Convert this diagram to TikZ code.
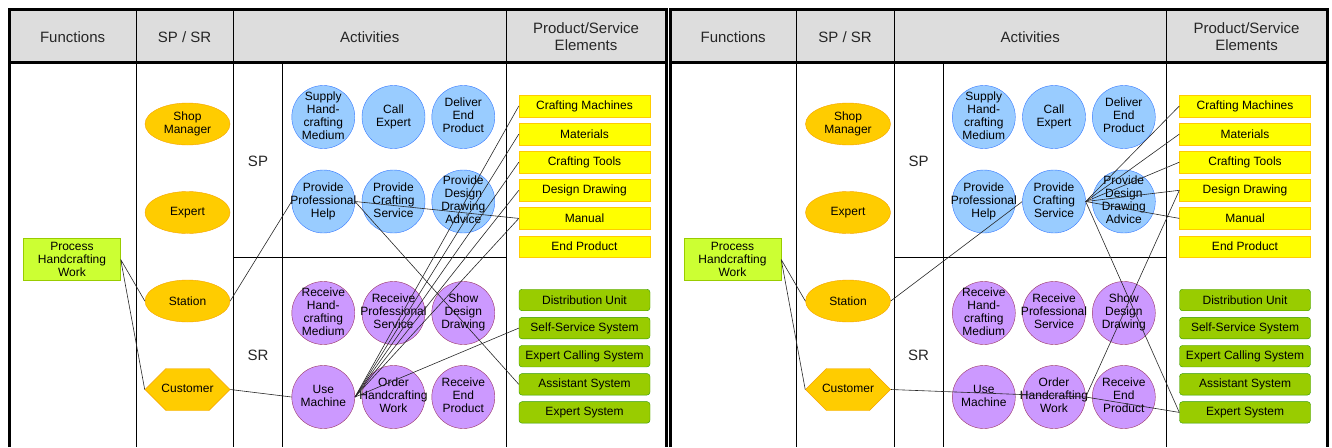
\documentclass[tikz,border=0pt]{standalone}
\usepackage{fontspec}
\setmainfont{Liberation Sans}
\usetikzlibrary{shapes.geometric,shapes.symbols}
\definecolor{hdrgray}{HTML}{DDDDDD}
\definecolor{actfill}{HTML}{FFCC00}
\definecolor{actline}{HTML}{F5A300}
\definecolor{funcfill}{HTML}{CCFF33}
\definecolor{funcline}{HTML}{99CC00}
\definecolor{spfill}{HTML}{99CCFF}
\definecolor{spline}{HTML}{3377FF}
\definecolor{srfill}{HTML}{CC99FF}
\definecolor{srline}{HTML}{993366}
\definecolor{pfill}{HTML}{FFFF00}
\definecolor{pline}{HTML}{FFCC00}
\definecolor{sfill}{HTML}{99CC00}
\definecolor{sline}{HTML}{339900}
% text set inside a shape, kept from growing the shape
\newcommand{\ctr}[1]{\makebox[0pt]{\raisebox{-.25em}[0pt][0pt]{\begin{tabular}{@{}c@{}}#1\end{tabular}}}}
\begin{document}
\begin{tikzpicture}[x=1pt,y=-1pt,
	txt/.style={font=\fontsize{12}{13}\selectfont,inner sep=0},
	hd/.style={font=\fontsize{15}{17}\selectfont,align=center,text=black!85},
	actor/.style={txt,ellipse,draw=actline,fill=actfill,minimum width=85,minimum height=42,align=center},
	hexa/.style={txt,signal,signal to=east and west,signal pointer angle=90,draw=actline,fill=actfill,minimum width=85,minimum height=42},
	func/.style={txt,rectangle,draw=funcline,fill=funcfill,minimum width=97,minimum height=42,align=center},
	spcirc/.style={txt,circle,draw=spline,fill=spfill,minimum size=63},
	srcirc/.style={txt,circle,draw=srline,fill=srfill,minimum size=63},
	pbox/.style={txt,rectangle,draw=pline,fill=pfill,minimum width=131,minimum height=21.5},
	sbox/.style={txt,rectangle,rounded corners=3,draw=sline,fill=sfill,minimum width=131,minimum height=21.5},
	link/.style={black!85,line width=0.6pt},
	frame/.style={line width=3pt}]
	\useasboundingbox (0,0) rectangle (1332,447);
	\clip (0,0) rectangle (1332,447);
	\foreach \p/\s in {L/0,R/660.5} {
		\begin{scope}[xshift=\s]
			% table
			\fill[hdrgray] (9.5,9.5) rectangle (666.5,62.5);
			\draw (135.7,9.5) -- (135.7,447) (233.5,9.5) -- (233.5,447) (506,9.5) -- (506,447);
			\draw (282.5,62.5) -- (282.5,447) (233.5,257) -- (506,257);
			\draw[frame] (9.5,447) -- (9.5,9.5) -- (666.5,9.5) -- (666.5,447) (9.5,62.5) -- (666.5,62.5);
			\node[hd] (\p-hfun) at (72.6,37) {Functions};
			\node[hd] (\p-hsp) at (184.6,37) {SP / SR};
			\node[hd] (\p-hact) at (369.7,37) {Activities};
			\node[hd] (\p-hprod) at (586,37) {Product/Service\\Elements};
			\node[hd] (\p-sp) at (258,161) {SP};
			\node[hd] (\p-sr) at (258,355) {SR};
			% functions and actors
			\node[func] (\p-proc) at (72,259.5) {Process\\Handcrafting\\Work};
			\node[actor] (\p-shop) at (187.5,124) {Shop\\Manager};
			\node[actor] (\p-exp) at (187.5,212.5) {Expert};
			\node[actor] (\p-stat) at (187.5,301) {Station};
			\node[hexa] (\p-cust) at (187.5,389.5) {\ctr{Customer}};
			% activities
			\foreach \n/\x/\y/\lab in {supply/323.3/117/{Supply\\Hand-\\crafting\\Medium},call/393.5/117/{Call\\Expert},deliver/463.3/117/{Deliver\\End\\Product},help/323.3/201.5/{Provide\\Professional\\Help},craft/393.5/201.5/{Provide\\Crafting\\Service},advice/463.3/201.5/{Provide\\Design\\Drawing\\Advice}}
				\node[spcirc] (\p-\n) at (\x,\y) {\ctr{\lab}};
			\foreach \n/\x/\y/\lab in {recv/323.3/313/{Receive\\Hand-\\crafting\\Medium},rprof/393.5/313/{Receive\\Professional\\Service},show/463.3/313/{Show\\Design\\Drawing},use/323.3/397/{Use\\Machine},order/393.5/397/{Order\\Handcrafting\\Work},rend/463.3/397/{Receive\\End\\Product}}
				\node[srcirc] (\p-\n) at (\x,\y) {\ctr{\lab}};
			% elements
			\foreach \n/\lab [count=\i from 0] in {mach/Crafting Machines,mat/Materials,tools/Crafting Tools,draw/Design Drawing,man/Manual,end/End Product}
				\node[pbox] (\p-\n) at (584.5,{106+28.1*\i}) {\lab};
			\foreach \n/\lab [count=\i from 0] in {dist/Distribution Unit,self/Self-Service System,ecall/Expert Calling System,asst/Assistant System,esys/Expert System}
				\node[sbox] (\p-\n) at (584.5,{300+28.1*\i}) {\lab};
		\end{scope}
	}
	% left links
	\draw[link] (L-proc.east) -- (L-stat.west) (L-proc.east) -- (L-cust.west);
	\draw[link] (L-stat.east) -- (L-help.west) (L-cust.east) -- (L-use.west);
	\draw[link] (L-help.east) -- (L-man.west) (L-help.east) -- (L-asst.west);
	\foreach \b in {mach,mat,tools,draw,man,self}
		\draw[link] (L-use.east) -- (L-\b.west);
	% right links
	\draw[link] (R-proc.east) -- (R-stat.west) (R-proc.east) -- (R-cust.west);
	\draw[link] (R-stat.east) -- (R-craft.west) (R-cust.east) -- (R-order.east);
	\draw[link] (R-order.east) -- (R-esys.west) (R-draw.west) -- (R-order.east);
	\foreach \b in {mach,mat,tools,draw,man,esys}
		\draw[link] (R-craft.east) -- (R-\b.west);
\end{tikzpicture}
\end{document}
